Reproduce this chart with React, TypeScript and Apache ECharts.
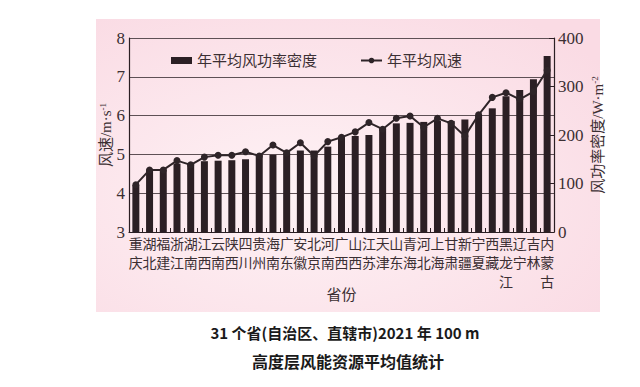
import React, { useEffect, useRef } from "react";
import * as echarts from "echarts";

const provinces = ["重庆","湖北","福建","浙江","湖南","江西","云南","陕西","四川","贵州","海南","广东","安徽","北京","河南","广西","山西","江苏","天津","山东","青海","河北","上海","甘肃","新疆","宁夏","西藏","黑龙江","辽宁","吉林","内蒙古"];
const powerDensity = [97,129,129,141,142,146,147,148,150,159,159,163,168,168,176,197,198,200,214,224,225,227,229,229,232,241,255,280,293,315,363];
const windSpeed = [4.22,4.6,4.6,4.84,4.73,4.93,4.98,4.98,5.07,4.96,5.24,5.04,5.3,4.96,5.33,5.44,5.58,5.82,5.65,5.93,5.99,5.7,5.93,5.8,5.47,6.02,6.47,6.59,6.42,6.62,7.17];
const speedTicks = [3, 8, 1];
const powerTicks = [0, 400, 100];

const serif = "'Liberation Serif', 'Noto Sans CJK SC', serif";
const dark = "#2b1f24";
const textC = "#3b2f33";

export default function App() {
  const ref = useRef<HTMLDivElement>(null);
  useEffect(() => {
    const chart = echarts.init(ref.current!, undefined, { renderer: "svg" });
    chart.setOption({
      animation: false,
      backgroundColor: "#ffffff",
      graphic: [
        {
          type: "rect",
          z: -10,
          shape: { x: 96, y: 19, width: 504, height: 293 },
          style: {
            fill: new echarts.graphic.RadialGradient(0.4, 0.6, 0.75, [
              { offset: 0, color: "#fef2f5" },
              { offset: 1, color: "#fadbe4" },
            ]),
          },
        },
        {
          type: "text",
          x: 345,
          y: 332,
          style: {
            text: "31 个省(自治区、直辖市)2021 年 100 m",
            font: "bold 15px 'Noto Sans CJK SC', sans-serif",
            fill: "#1a1a1a",
            textAlign: "center",
            textVerticalAlign: "middle",
          },
        },
        {
          type: "text",
          x: 348,
          y: 361,
          style: {
            text: "高度层风能资源平均值统计",
            font: "bold 16px 'Noto Sans CJK SC', sans-serif",
            fill: "#1a1a1a",
            textAlign: "center",
            textVerticalAlign: "middle",
          },
        },
      ],
      legend: {
        left: 166,
        top: 48,
        itemWidth: 21,
        itemHeight: 7,
        itemGap: 43,
        textStyle: { fontFamily: serif, fontSize: 15, color: textC },
        data: [
          { name: "年平均风功率密度", icon: "rect" },
          { name: "年平均风速" },
        ],
      },
      grid: { left: 129, right: 86, top: 38, bottom: 155, containLabel: false },
      xAxis: {
        type: "category",
        data: provinces,
        boundaryGap: true,
        name: "省份",
        nameLocation: "middle",
        nameGap: 55,
        nameMoveOverlap: false,
        nameTextStyle: { fontFamily: serif, fontSize: 15, color: textC },
        axisLine: { lineStyle: { color: dark, width: 1.2 } },
        axisTick: { show: true, inside: true, length: 4, lineStyle: { color: dark } },
        axisLabel: {
          interval: 0,
          margin: 3,
          fontFamily: serif,
          fontSize: 14,
          lineHeight: 19,
          color: textC,
          verticalAlign: "top",
          formatter: (v: string) => v.split("").join("\n"),
        },
      },
      yAxis: [
        {
          type: "value",
          min: speedTicks[0],
          max: speedTicks[1],
          interval: speedTicks[2],
          name: "风速/m·s{sup|-1}",
          nameLocation: "middle",
          nameRotate: 90,
          nameGap: 16,
          nameMoveOverlap: false,
          nameTextStyle: {
            fontFamily: serif,
            fontSize: 15,
            color: textC,
            rich: { sup: { fontSize: 9, verticalAlign: "top", fontFamily: serif, color: textC, padding: [0, 0, 6, 0] } },
          },
          axisLine: { show: true, lineStyle: { color: dark, width: 1.2 } },
          axisTick: { show: false },
          axisLabel: { fontFamily: serif, fontSize: 17, color: textC, margin: 4 },
          splitLine: { show: true, lineStyle: { color: "#5e5055", width: 1 } },
        },
        {
          type: "value",
          min: powerTicks[0],
          max: powerTicks[1],
          interval: powerTicks[2],
          position: "right",
          name: "风功率密度/W·m{sup|-2}",
          nameLocation: "middle",
          nameRotate: 90,
          nameGap: 36,
          nameMoveOverlap: false,
          nameTextStyle: {
            fontFamily: serif,
            fontSize: 15,
            color: textC,
            rich: { sup: { fontSize: 9, verticalAlign: "top", fontFamily: serif, color: textC, padding: [0, 0, 6, 0] } },
          },
          axisLine: { show: true, lineStyle: { color: dark, width: 1.2 } },
          axisTick: { show: true, inside: true, length: 5, lineStyle: { color: dark } },
          axisLabel: { fontFamily: serif, fontSize: 17, color: textC, margin: 4 },
          splitLine: { show: false },
        },
      ],
      series: [
        {
          name: "年平均风功率密度",
          type: "bar",
          yAxisIndex: 1,
          data: powerDensity,
          barWidth: 7,
          itemStyle: { color: dark },
        },
        {
          name: "年平均风速",
          type: "line",
          yAxisIndex: 0,
          data: windSpeed,
          symbol: "circle",
          symbolSize: 7,
          lineStyle: { color: "#2e2428", width: 2 },
          itemStyle: { color: "#2e2428" },
        },
      ],
    });
    return () => chart.dispose();
  }, []);
  return (
    <div
      ref={ref}
      style={{ position: "fixed", left: 0, top: 0, width: 640, height: 387 }}
    />
  );
}
